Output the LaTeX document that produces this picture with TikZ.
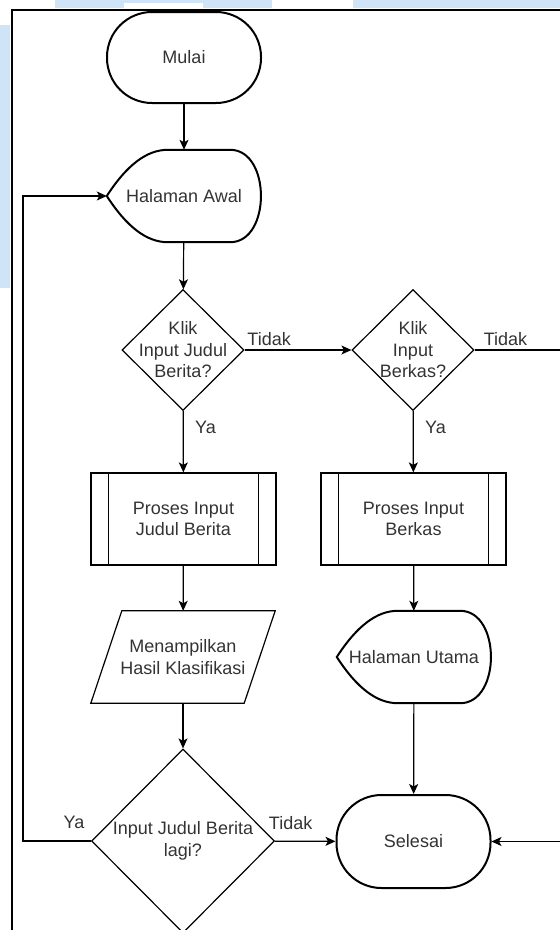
\documentclass[tikz,border=0pt]{standalone}
\usepackage{fontspec}
\setmainfont{Liberation Sans}
\usetikzlibrary{arrows.meta, shapes.geometric}
\definecolor{bgblue}{RGB}{208,228,248}

\begin{document}
\begin{tikzpicture}[x=1pt, y=-1pt,
	    >={Stealth[length=10pt, width=9pt, inset=2.5pt]},
	    every node/.style={font=\fontsize{18}{21.5}\selectfont, text=black!80},
	    terminal/.style={draw, line width=2pt, rounded corners=45pt, minimum width=154pt, minimum height=91pt},
	    display/.style={minimum width=154pt, minimum height=92pt, inner sep=0pt},
	    decision/.style={diamond, draw, line width=1.2pt, minimum width=122pt, minimum height=121pt, inner sep=0pt},
	    subproc/.style={draw, line width=1.2pt, minimum width=185pt, minimum height=92pt, align=center},
	    io/.style={minimum width=184pt, minimum height=92pt, align=center},
	    txt/.style={align=center},
	    arr/.style={->, line width=1.2pt},
	    outline/.style={line width=2pt},
	    thinline/.style={line width=1.2pt}
	  ]
	  \useasboundingbox (0,0) rectangle (560,930);
	  % screenshot background
	  \fill[bgblue] (0,25) rectangle (10,288);
	  \fill[bgblue] (55,0) rectangle (272,8);
	  \fill[white] (124,3) rectangle (203,8);
	  \fill[bgblue] (353,0) rectangle (560,8);
	  \draw[line width=1.6pt] (12,930) -- (12,10) -- (560,10);

	  % nodes
	  \node[terminal] (mulai) at (184,57.5) {Mulai};
	  \node[display] (awal) at (184,196) {Halaman Awal};
	  \node[decision, label={[txt]center:Klik\\Input Judul\\Berita?}] (klik1) at (183,350) {};
	  \node[decision, label={[txt]center:Klik\\Input\\Berkas?}] (klik2) at (413,350) {};
	  \node[subproc] (projudul) at (183.5,519) {Proses Input\\Judul Berita};
	  \node[subproc] (proberkas) at (413.5,519) {Proses Input\\Berkas};
	  \node[io] (hasil) at (183,657) {Menampilkan\\Hasil Klasifikasi};
	  \node[display] (utama) at (414,657) {Halaman Utama};
	  \node[decision, minimum width=183pt, minimum height=184pt,
	    label={[txt]center:Input Judul Berita\\lagi?}] (lagi) at (183,841) {};
	  \node[terminal, minimum height=93pt] (selesai) at (413.5,841.5) {Selesai};

	  \coordinate (lp) at (23,841);
	  \coordinate (rt) at (560.4,350);

	  % shape outlines
	  \foreach \n in {awal,utama}
	    \draw[outline] ([xshift=61pt]\n.north west) -- ([xshift=-31pt]\n.north east)
	      .. controls ([xshift=10pt]\n.north east) and ([xshift=10pt]\n.south east) .. ([xshift=-31pt]\n.south east)
	      -- ([xshift=61pt]\n.south west)
	      .. controls ([xshift=40pt]\n.south west) and ([xshift=20pt,yshift=-31pt]\n.west) .. (\n.west)
	      .. controls ([xshift=20pt,yshift=31pt]\n.west) and ([xshift=40pt]\n.north west) .. cycle;
	  \foreach \n in {projudul,proberkas} {
	    \draw[thinline] ([xshift=18pt]\n.north west) -- ([xshift=18pt]\n.south west);
	    \draw[thinline] ([xshift=-18pt]\n.north east) -- ([xshift=-18pt]\n.south east);
	  }
	  \draw[thinline] ([xshift=31pt]hasil.north west) -- (hasil.north east)
	    -- ([xshift=-31pt]hasil.south east) -- (hasil.south west) -- cycle;

	  % connectors
	  \draw[arr] (mulai) -- (awal);
	  \draw[arr] (awal) -- (klik1);
	  \draw[arr] (klik1) -- node[pos=0.23, above] {Tidak} (klik2);
	  \draw[arr] (klik1) -- node[pos=0.26, right=8pt] {Ya} (projudul);
	  \draw[arr] (klik2) -- node[pos=0.26, right=8pt] {Ya} (proberkas);
	  \draw[arr] (klik2.east) -- node[pos=0.36, above] {Tidak} (rt) |- (selesai.east);
	  \draw[arr] (projudul) -- (hasil);
	  \draw[arr] (proberkas) -- (utama);
	  \draw[arr] (hasil) -- (lagi);
	  \draw[arr] (utama) -- (selesai);
	  \draw[arr] (lagi) -- node[pos=0.26, above=8pt] {Tidak} (selesai);
	  \draw[arr] (lagi.west) -- node[pos=0.25, above=8pt] {Ya} (lp) |- (awal.west);
	\end{tikzpicture}
\end{document}
